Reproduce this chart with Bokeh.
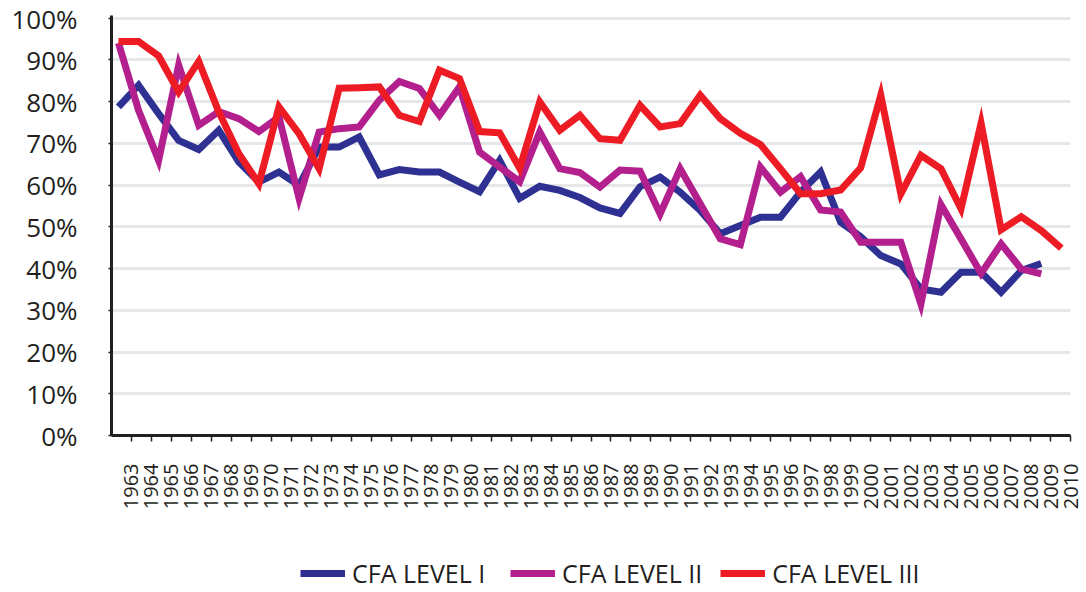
import numpy as np
from bokeh.plotting import figure
from bokeh.models import Range1d, FixedTicker, Legend, LegendItem
from bokeh.layouts import column
from bokeh.embed import file_html
from bokeh.resources import INLINE

# ---- data (pass rates in %) ----
years = list(range(1963, 2011))
year_labels = [str(y) for y in years]

level1 = [78.7, 83.9, 77.1, 70.7, 68.5, 73.1, 65.5, 60.7, 63.1, 59.9,
          69.1, 69.1, 71.5, 62.4, 63.7, 63.1, 63.1, 60.7, 58.4, 65.9,
          56.8, 59.7, 58.7, 57.0, 54.5, 53.2, 59.6, 61.9, 58.3, 53.9,
          48.3, 50.3, 52.3, 52.3, 58.3, 63.1, 51.1, 47.6, 43.1, 41.1,
          35.1, 34.3, 39.1, 39.1, 34.3, 39.5, 41.2]
level2 = [94.0, 77.9, 65.9, 88.7, 74.3, 77.6, 75.9, 72.8, 76.3, 56.8,
          72.7, 73.5, 73.9, 80.3, 84.8, 83.1, 76.7, 83.5, 67.9, 64.3,
          60.8, 72.7, 63.9, 63.0, 59.5, 63.6, 63.3, 53.1, 63.9, 55.5,
          47.1, 45.7, 64.3, 58.3, 62.0, 54.0, 53.5, 46.3, 46.3, 46.3,
          31.5, 55.3, 47.1, 38.8, 45.9, 39.9, 38.7]
level3 = [94.4, 94.4, 90.9, 82.3, 89.6, 77.5, 67.5, 60.3, 78.7, 72.3,
          63.9, 83.2, 83.3, 83.5, 76.7, 75.2, 87.5, 85.5, 72.8, 72.5,
          64.0, 79.9, 73.1, 76.7, 71.1, 70.7, 79.1, 73.9, 74.7, 81.5,
          75.9, 72.4, 69.7, 63.9, 57.9, 57.9, 58.8, 64.1, 81.5, 57.9,
          67.1, 63.9, 54.3, 74.8, 49.3, 52.4, 49.1, 44.9]

y_ticks = [0, 10, 20, 30, 40, 50, 60, 70, 80, 90, 100]
y_tick_labels = ["0%", "10%", "20%", "30%", "40%", "50%", "60%", "70%", "80%", "90%", "100%"]

series_names = ["CFA LEVEL I", "CFA LEVEL II", "CFA LEVEL III"]
colors = ["#2E3192", "#B3208E", "#ED1C24"]
series = [level1, level2, level3]

# data points sit slightly left of the year ticks in the original
xpos = np.linspace(1962.35, 2009.54, len(level3))

FONT = "Open Sans"
TXT = "#231F20"
W = 1084

p = figure(width=W, height=545, output_backend="svg", toolbar_location=None,
           x_range=Range1d(1962, 2010), y_range=Range1d(0, 100.6),
           min_border_left=111, min_border_right=14, min_border_top=15,
           min_border_bottom=110)
p.outline_line_color = None
p.background_fill_color = "white"
p.border_fill_color = "white"

for vals, c in zip(series, colors):
    p.line(xpos[:len(vals)], vals, line_color=c, line_width=7, line_join="miter")

# axes
p.xaxis.ticker = FixedTicker(ticks=years)
p.xaxis.major_label_overrides = {y: s for y, s in zip(years, year_labels)}
p.xaxis.major_label_orientation = np.pi / 2
p.xaxis.major_label_text_font = FONT
p.xaxis.major_label_text_font_size = "20px"
p.xaxis.major_label_text_color = TXT
p.xaxis.major_label_standoff = 22
p.xaxis.axis_line_width = 3
p.xaxis.axis_line_color = TXT
p.xaxis.major_tick_out = 6
p.xaxis.major_tick_in = 0
p.xaxis.major_tick_line_width = 1.5
p.xaxis.major_tick_line_color = TXT
p.xaxis.minor_tick_line_color = None

p.yaxis.ticker = FixedTicker(ticks=y_ticks)
p.yaxis.major_label_overrides = {t: s for t, s in zip(y_ticks, y_tick_labels)}
p.yaxis.major_label_text_font = FONT
p.yaxis.major_label_text_font_size = "26px"
p.yaxis.major_label_text_color = TXT
p.yaxis.major_label_standoff = 31
p.yaxis.axis_line_width = 3
p.yaxis.axis_line_color = TXT
p.yaxis.major_tick_out = 3
p.yaxis.major_tick_in = 0
p.yaxis.major_tick_line_width = 1.5
p.yaxis.major_tick_line_color = TXT
p.yaxis.minor_tick_line_color = None

p.xgrid.grid_line_color = None
p.ygrid.grid_line_color = "#E6E7E8"
p.ygrid.grid_line_width = 3

# ---- legend strip below the chart ----
# the same series are drawn here outside the visible range, only to feed the legend swatches
pl = figure(width=W, height=45, output_backend="svg", toolbar_location=None,
            x_range=Range1d(0, 1), y_range=Range1d(0, 1),
            x_axis_location=None, y_axis_location=None,
            min_border_left=0, min_border_right=0, min_border_top=0, min_border_bottom=0)
pl.outline_line_color = None
pl.grid.visible = False
proxies = [pl.line(xpos[:len(v)], v, line_color=c, line_width=7) for v, c in zip(series, colors)]

legend = Legend(items=[LegendItem(label=n, renderers=[r]) for n, r in zip(series_names, proxies)],
                orientation="horizontal", location=(189, 0),
                label_text_font=FONT, label_text_font_size="25px", label_text_color=TXT,
                glyph_width=45, glyph_height=20, label_standoff=7, spacing=18,
                label_width=140,
                padding=0, margin=0, border_line_color=None, background_fill_alpha=0)
pl.add_layout(legend, "center")

layout = column(p, pl, spacing=0)
open("out.html", "w").write(file_html(layout, INLINE))
